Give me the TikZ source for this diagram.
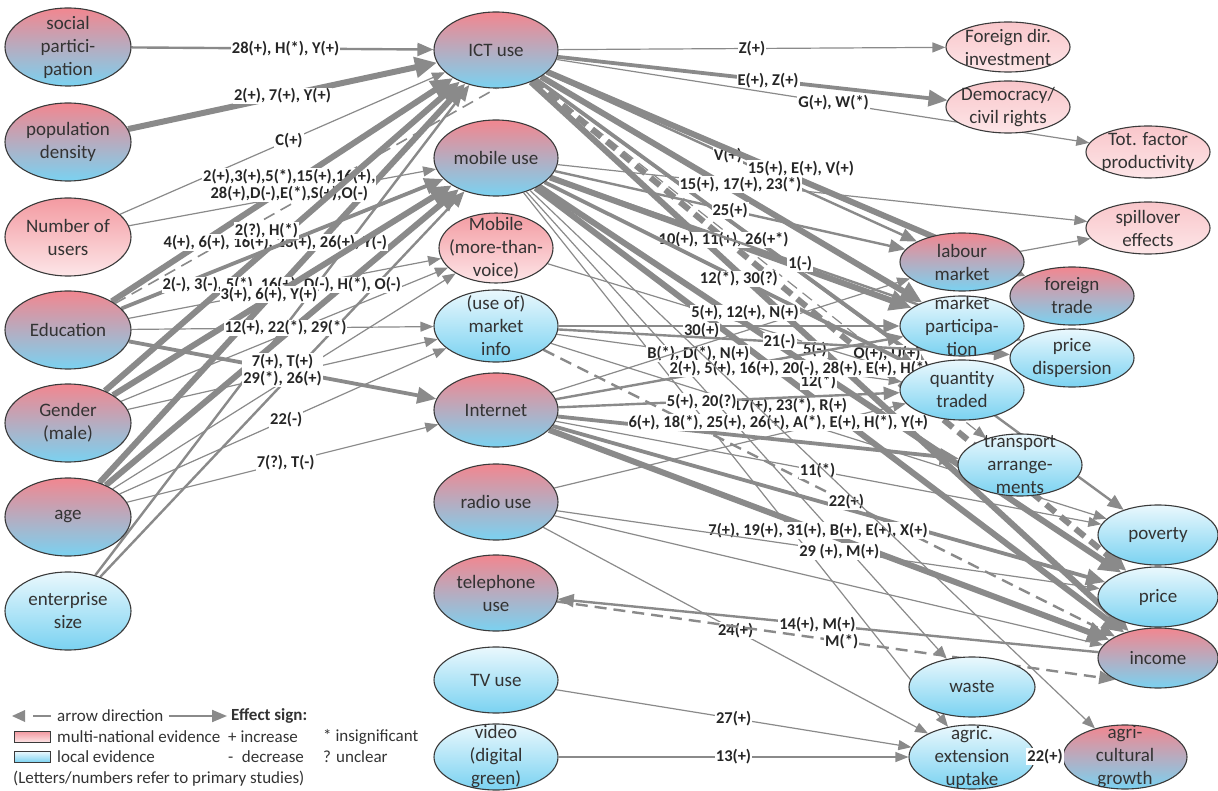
\documentclass[tikz,border=0pt]{standalone}
\usepackage{fontspec}
\setmainfont{Carlito}
\usetikzlibrary{arrows.meta,shapes.geometric}
\definecolor{EvRed}{HTML}{F2868F}
\definecolor{EvBlue}{HTML}{7AD2F1}
\definecolor{EvPinkTop}{HTML}{F39AA1}
\definecolor{EvPinkLite}{HTML}{F9C6CA}
\definecolor{EvPink}{HTML}{FDE6E8}
\definecolor{EvSky}{HTML}{EAF8FD}
\definecolor{EdgeGray}{HTML}{8A8A8A}
\definecolor{RimGray}{HTML}{3A3A3A}
\definecolor{InkGray}{HTML}{333333}
\newcommand{\nodefont}{\fontsize{19}{23}\selectfont}
\newcommand{\labfont}{\bfseries\fontsize{16.5}{17}\selectfont}
\newcommand{\legfont}{\fontsize{17}{20}\selectfont}
\pgfdeclarelayer{edges}
\pgfsetlayers{edges,main}
\tikzset{bub/.style={ellipse,draw=RimGray,line width=1.1pt,inner sep=0pt,
 minimum width=124pt,minimum height=76pt},both/.style={bub,top color=EvRed,bottom color=EvBlue},
 multi/.style={bub,top color=EvPinkTop,bottom color=EvPink},multilite/.style={bub,
 top color=EvPinkLite,bottom color=EvPink},local/.style={bub,top color=EvSky,bottom color=EvBlue},
 txt/.style={align=center,font=\nodefont,text=InkGray,inner sep=0pt},tx/.style={label={[txt]center:#1}},
 lab/.style={fill=white,inner sep=1pt,align=center,font=\labfont,text=black!85},
 e1/.style={draw=EdgeGray,line width=1.2pt,-{Triangle[length=13pt,width=10pt]}},
 e2/.style={draw=EdgeGray,line width=2.4pt,-{Triangle[length=16pt,width=13pt]}},
 e3/.style={draw=EdgeGray,line width=3.8pt,-{Triangle[length=19pt,width=16pt]}},
 e4/.style={draw=EdgeGray,line width=6pt,-{Triangle[length=22pt,width=20pt]}},
 dsh/.style={dash pattern=on 12pt off 7pt},leg/.style={font=\legfont,text=InkGray,inner sep=0pt,anchor=west}}
\begin{document}
\begin{tikzpicture}[x=1pt,y=-1pt]
\useasboundingbox (0,0) rectangle (1218,791);
\foreach \nm/\y/\sty/\txt in {soc/47/both/{social\\partici-\\pation},pop/142/both/{population\\density},
 users/237/multi/{Number of\\users},edu/330/both/Education,gender/423/both/{Gender\\(male)},
 age/517/both/age,ent/611/local/{enterprise\\size}}
 {\node[\sty,minimum width=126pt,minimum height=78pt,tx=\txt] (\nm) at (68,\y) {};}
\foreach \nm/\y/\sty/\w/\h/\txt in {ict/50/both/124/76/{ICT use},mob/158/both/124/76/{mobile use},
 mobmore/248/multi/114/70/{Mobile\\(more-than-\\voice)},mkt/326/local/124/72/{(use of)\\market\\info},
 inet/410/both/124/74/Internet,radio/502/both/124/76/{radio use},tel/593/both/124/76/{telephone\\use},
 tv/680/local/124/66/{TV use},video/757/local/124/66/{video\\(digital\\green)}}
 {\node[\sty,minimum width=\w pt,minimum height=\h pt,tx=\txt] (\nm) at (496,\y) {};}
\node[multilite,minimum height=50pt,tx={Foreign dir.\\investment}] (fdi) at (1008,47) {};
\node[multilite,minimum height=52pt,tx={Democracy/\\civil rights}] (demo) at (1008,107) {};
\node[multilite,minimum height=52pt,tx={Tot. factor\\productivity}] (tfp) at (1148,152) {};
\node[multilite,minimum height=52pt,tx={spillover\\effects}] (spill) at (1148,228) {};
\node[both,minimum height=58pt,tx={labour\\market}] (labour) at (962,262) {};
\node[both,minimum height=58pt,tx={foreign\\trade}] (ftrade) at (1072,296) {};
\node[local,minimum height=60pt,tx={market\\participa-\\tion}] (mpart) at (962,326) {};
\node[local,minimum height=58pt,tx={price\\dispersion}] (pdisp) at (1072,358) {};
\node[local,minimum height=60pt,tx={quantity\\traded}] (qty) at (962,390) {};
\node[local,minimum height=62pt,tx={transport\\arrange-\\ments}] (transp) at (1020,465) {};
\node[local,minimum width=120pt,minimum height=60pt,tx=poverty] (pov) at (1158,535) {};
\node[local,minimum width=120pt,minimum height=60pt,tx=price] (price) at (1158,597) {};
\node[both,minimum width=120pt,minimum height=60pt,tx=income] (income) at (1158,658) {};
\node[local,minimum width=126pt,minimum height=60pt,tx=waste] (waste) at (972,687) {};
\node[local,minimum width=126pt,minimum height=64pt,tx={agric.\\extension\\uptake}] (agext) at (972,757) {};
\node[both,minimum height=64pt,tx={agri-\\cultural\\growth}] (agrow) at (1125,757) {};
\begin{pgfonlayer}{edges}
\draw[e2] (soc) -- node[lab,pos=.51]{28(+), H(*), Y(+)} (ict);
\draw[e4] (pop) -- node[lab,pos=.5]{2(+), 7(+), Y(+)} (ict);
\draw[e1] (users) -- node[lab,pos=.52]{C(+)} (ict);
\draw[e4] (age) -- (ict);
\draw[e2] (ent) -- (ict);
\draw[e4] (age) -- (mob);
\draw[e2] (ent) -- (mob);
\draw[e1] (users) -- (mob);
\draw[e1] (age) -- (mobmore);
\draw[e1] (gender) -- (mobmore);
\draw[e1] (gender) -- (mkt);
\draw[draw=EdgeGray,line width=1.6pt,dsh] (edu) -- (ict.south);
\draw[e4] (edu) -- node[lab,pos=.52]{2(+),3(+),5(*),15(+),16(+),\\28(+),D(-),E(*),S(+),O(-)} (ict);
\draw[e4] (gender) -- node[lab,pos=.48]{4(+), 6(+), 16(+), 23(+), 26(+), Y(-)} (ict);
\draw[e3] (edu) -- node[lab,pos=.45,yshift=20pt]{2(?), H(*)} (mob);
\draw[e1] (edu) -- node[lab,pos=.49,yshift=4pt]{2(-), 3(-), 5(*), 16(+), D(-), H(*), O(-)} (mobmore);
\draw[e4] (gender) -- node[lab,pos=.46,yshift=4pt]{3(+), 6(+), Y(+)} (mob);
\draw[e1] (edu) -- node[lab,pos=.51]{12(+), 22(*), 29(*)} (mkt);
\draw[e3] (edu) -- node[lab,pos=.5]{7(+), T(+)\\29(*), 26(+)} (inet);
\draw[e1] (age) -- node[lab,pos=.51]{22(-)} (mkt);
\draw[e1] (age) -- node[lab,pos=.51]{7(?), T(-)} (inet);
\draw[e4] (ict) -- (mpart);
\draw[e3] (ict) -- (qty);
\draw[e4,dsh] (ict) -- (price);
\draw[e4] (ict) -- (income);
\draw[e2] (ict) -- (pov);
\draw[e4] (mob) -- (income);
\draw[e1] (mob) -- (waste);
\draw[e1] (mob) -- (agext);
\draw[e3] (inet) -- (price);
\draw[e1] (radio) -- (income);
\draw[e1] (radio) -- (qty);
\draw[e1] (labour) -- (spill);
\draw[e1] (ict) -- node[lab,pos=.5]{Z(+)} (fdi);
\draw[e3] (ict) -- node[lab,pos=.54]{E(+), Z(+)} (demo);
\draw[e1] (ict) -- node[lab,pos=.52]{G(+), W(*)} (tfp);
\draw[e2] (ict) -- node[lab,pos=.49]{V(+)} (labour);
\draw[e4] (ict) -- node[lab,pos=.53,yshift=12pt]{15(+), E(+), V(+)} (ftrade);
\draw[e1,dsh] (ict) -- node[lab,pos=.78,yshift=6pt]{O(+), U(+)} (transp);
\draw[e1] (mob) -- node[lab,pos=.345]{15(+), 17(+), 23(*)} (spill);
\draw[e2] (mob) -- node[lab,pos=.5]{25(+)} (labour);
\draw[e4] (mob) -- node[lab,pos=.48]{10(+), 11(+), 26(+*)} (mpart);
\draw[e2] (mob) -- node[lab,pos=.53]{1(-)} (pdisp);
\draw[e3] (mob) -- node[lab,pos=.52]{12(*), 30(?)} (qty);
\draw[e4] (mob) -- node[lab,pos=.48,yshift=-10pt]{12(*)} (price);
\draw[e1] (mobmore) -- node[lab,pos=.74,yshift=-4pt]{5(-)} (qty);
\draw[e2] (mkt) -- node[lab,pos=.42,yshift=-5pt]{30(+)} (mpart);
\draw[e2] (mkt) -- node[lab,pos=.49]{21(-)} (pdisp);
\draw[e1] (mkt) -- node[lab,pos=.41]{B(*), D(*), N(+)} (qty);
\draw[e1] (mkt) -- node[lab,pos=.43,yshift=13pt]{17(+), 23(*), R(+)} (pov);
\draw[e2,dsh] (mkt) -- node[lab,pos=.53]{22(+)} (income);
\draw[e1] (inet) -- node[lab,pos=.54,yshift=18pt]{5(+), 12(+), N(+)} (labour);
\draw[e2] (inet) -- node[lab,pos=.75,yshift=-16pt]{2(+), 5(+), 16(+), 20(-), 28(+), E(+), H(*), S(+)} (mpart);
\draw[e2] (inet) -- node[lab,pos=.42]{5(+), 20(?)} (qty);
\draw[e3] (inet) -- node[lab,pos=.55,yshift=17pt]{6(+), 18(*), 25(+), 26(+), A(*), E(+), H(*), Y(+)} (transp);
\draw[e1] (inet) -- node[lab,pos=.48]{11(*)} (pov);
\draw[e4] (inet) -- node[lab,pos=.48]{7(+), 19(+), 31(+), B(+), E(+), X(+)} (income);
\draw[e1] (radio) -- node[lab,pos=.52]{29 (+), M(+)} (price);
\draw[e1] (radio) -- node[lab,pos=.5]{24(+)} (agext);
\draw[e2] (income) -- node[lab,pos=.52]{14(+), M(+)} (tel);
\draw[e2,dsh] (tel) -- node[lab,pos=.51]{M(*)} (income.south west);
\draw[e1] (tv) -- node[lab,pos=.5]{27(+)} (agext);
\draw[e1] (video) -- node[lab,pos=.5]{13(+)} (agext);
\end{pgfonlayer}
\draw[e1] (mob) -- node[lab,pos=1,xshift=-50pt,yshift=-28pt]{22(+)} (agrow);
\node[leg] (ldir) at (57,716) {arrow direction};
\node[leg,font=\legfont\bfseries] (lsign) at (231,716) {Effect sign:};
\coordinate (ltip) at (12,716);
\fill[EdgeGray] (ltip) -- ++(13,-6) -- ++(0,12) -- cycle;
\draw[draw=EdgeGray,line width=2pt] ([xshift=-24pt]ldir.west) -- ([xshift=-6pt]ldir.west);
\draw[draw=EdgeGray,line width=2pt,-{Triangle[length=15pt,width=12pt]}] ([xshift=5pt]ldir.east) -- ([xshift=-4pt]lsign.west);
\node[draw=RimGray,line width=1pt,top color=EvPinkTop,bottom color=EvPink,minimum width=36pt,
 minimum height=11pt,inner sep=0pt] (lmulti) at (32,737) {};
\node[draw=RimGray,line width=1pt,top color=EvSky,bottom color=EvBlue,minimum width=36pt,
 minimum height=11pt,inner sep=0pt] (llocal) at (32,757) {};
\node[leg] (lmultitxt) at (57,737) {multi-national evidence};
\node[leg] (llocaltxt) at (57,757) {local evidence};
\node[leg] (linc) at (228,737) {+ increase};
\node[leg] (ldec) at (228,757) {-\enspace decrease};
\node[leg] (lins) at (323,737) {* insignificant};
\node[leg] (lunc) at (323,757) {? unclear};
\node[leg] (lnote) at (13,779) {(Letters/numbers refer to primary studies)};
\end{tikzpicture}
\end{document}
